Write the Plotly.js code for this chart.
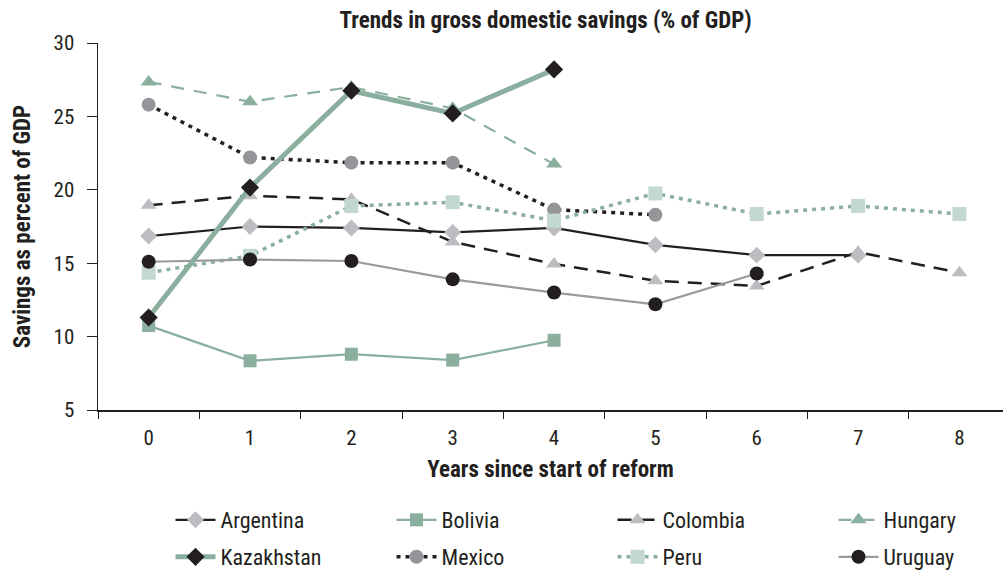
<!DOCTYPE html>
<html>
<head>
<meta charset="utf-8">
<script src="https://cdn.plot.ly/plotly-3.0.1.min.js"></script>
<style>html,body{margin:0;padding:0;overflow:hidden;background:#fff}</style>
</head>
<body>
<div id="chart" style="width:1003px;height:571px"></div>
<script>
const years = ["0","1","2","3","4","5","6","7","8"];
const argentina  = [16.85, 17.5, 17.4, 17.1, 17.4, 16.25, 15.55, 15.55];
const bolivia    = [10.75, 8.35, 8.8, 8.4, 9.75];
const colombia   = [18.95, 19.6, 19.35, 16.45, 14.95, 13.8, 13.45, 15.75, 14.35];
const hungary    = [27.35, 26.0, 27.0, 25.55, 21.75];
const kazakhstan = [11.3, 20.15, 26.75, 25.2, 28.2];
const mexico     = [25.8, 22.2, 21.85, 21.85, 18.65, 18.3];
const peru       = [14.35, 15.5, 18.9, 19.15, 17.9, 19.75, 18.35, 18.9, 18.35];
const uruguay    = [15.1, 15.25, 15.15, 13.9, 13.0, 12.2, 14.3];

const GREEN = "#8aaf9f", LGREEN = "#c3d9cf", BLACK = "#231f20", LGRAY = "#bdbdc1", MGRAY = "#939598", LINEGRAY = "#9a9a9d";
const FONT = '"Liberation Sans Narrow", "Roboto Condensed", Roboto, sans-serif';

function tr(name, vals, line, marker, rank, leg) {
  return {type:"scatter", mode:"lines+markers", name:name, x:years.slice(0, vals.length), y:vals,
          line:line, marker:marker, legendrank:rank, legend:leg};
}
const data = [
  tr("Argentina", argentina, {color:BLACK, width:2.2}, {symbol:"diamond", color:LGRAY, size:13}, 1, "legend"),
  tr("Bolivia", bolivia, {color:GREEN, width:2.2}, {symbol:"square", color:GREEN, size:13}, 2, "legend"),
  tr("Colombia", colombia, {color:BLACK, width:2.5, dash:"14px,9px"}, {symbol:"triangle-up", color:LGRAY, size:14}, 3, "legend"),
  tr("Hungary", hungary, {color:GREEN, width:2.2, dash:"13px,10px"}, {symbol:"triangle-up", color:GREEN, size:14}, 4, "legend"),
  tr("Mexico", mexico, {color:BLACK, width:3.5, dash:"4px,5px"}, {symbol:"circle", color:MGRAY, size:14}, 6, "legend2"),
  tr("Peru", peru, {color:GREEN, width:3.5, dash:"4px,5px"}, {symbol:"square", color:LGREEN, size:14}, 7, "legend2"),
  tr("Uruguay", uruguay, {color:LINEGRAY, width:2.2}, {symbol:"circle", color:BLACK, size:14}, 8, "legend2"),
  tr("Kazakhstan", kazakhstan, {color:GREEN, width:5}, {symbol:"diamond", color:BLACK, size:14}, 5, "legend2")
];

const legCommon = {orientation:"h", xref:"container", yref:"container", x:0.17, xanchor:"left", yanchor:"middle",
                   entrywidth:166, entrywidthmode:"pixels", font:{size:22, color:"#231f20"}, itemwidth:40,
                   bgcolor:"rgba(0,0,0,0)"};

const layout = {
  width:1003, height:571,
  margin:{l:98, r:0, t:43, b:161},
  paper_bgcolor:"#fff", plot_bgcolor:"#fff",
  font:{family:FONT, color:"#231f20", size:21},
  title:{text:"<b>Trends in gross domestic savings (% of GDP)</b>", x:0.544, xanchor:"center", y:0.965, yanchor:"middle",
         font:{family:FONT, size:23, color:"#231f20"}},
  xaxis:{type:"category", range:[-0.5, 8.43], tickson:"boundaries", ticks:"outside", ticklen:7, tickcolor:"#231f20",
         showline:true, linecolor:"#231f20", linewidth:1.5, showgrid:false, zeroline:false, ticklabelstandoff:8,
         tickfont:{size:21, color:"#231f20"},
         title:{text:"<b>Years since start of reform</b>", standoff:12, font:{size:23, color:"#231f20"}}},
  yaxis:{range:[5,30], dtick:5, ticks:"outside", ticklen:10, tickcolor:"#231f20",
         showline:true, linecolor:"#231f20", linewidth:1.5, showgrid:false, zeroline:false, ticklabelstandoff:8,
         tickfont:{size:21, color:"#231f20"},
         title:{text:"<b>Savings as percent of GDP</b>", standoff:16, font:{size:23, color:"#231f20"}}},
  showlegend:true,
  legend:Object.assign({}, legCommon, {y:1 - 520/571}),
  legend2:Object.assign({}, legCommon, {y:1 - 557/571})
};
Plotly.newPlot("chart", data, layout, {displayModeBar:false, staticPlot:true});
</script>
</body>
</html>
